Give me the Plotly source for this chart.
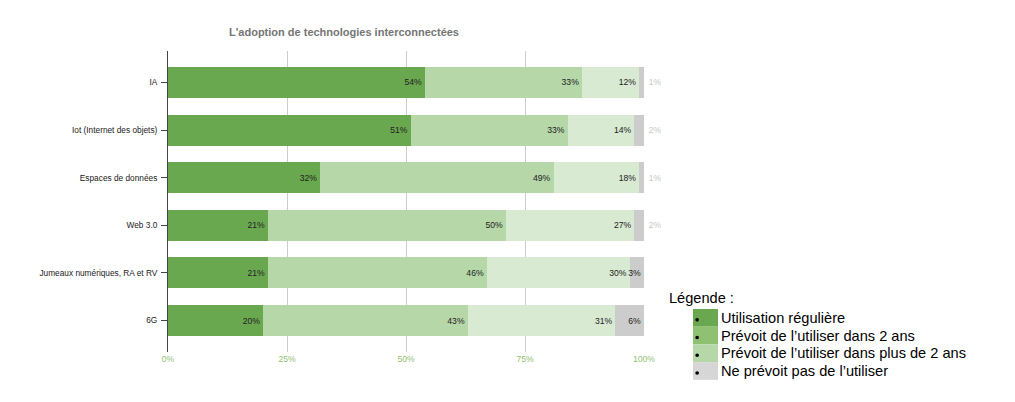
import plotly.graph_objects as go

# Données (en %)
technologies = ['IA', 'Iot (Internet des objets)', 'Espaces de données', 'Web 3.0',
                'Jumeaux numériques, RA et RV', '6G']
utilisation = [54, 51, 32, 21, 21, 20]
dans_2_ans = [33, 33, 49, 50, 46, 43]
plus_2_ans = [12, 14, 18, 27, 30, 31]
pas_prevu = [1, 2, 1, 2, 3, 6]

series_names = ['Utilisation régulière', "Prévoit de l’utiliser dans 2 ans",
                "Prévoit de l’utiliser dans plus de 2 ans", "Ne prévoit pas de l’utiliser"]
x_ticks = [0, 25, 50, 75, 100]

bar_colors = ['#6aa84f', '#b6d7a8', '#d9ead3', '#cccccc']
legend_colors = ['#6aa84f', '#8fc172', '#b6d7a8', '#d6d6d6']

# la page html ajoute une marge de 8 px autour de la figure
OFF = 8
W, H = 1015 - OFF, 402 - OFF
L, R, T, B = 168 - OFF, 644 - OFF, 51 - OFF, 352 - OFF

fig = go.Figure()
for name, vals, col in zip(series_names, [utilisation, dans_2_ans, plus_2_ans, pas_prevu], bar_colors):
    # les petites valeurs grises des 4 premières lignes sont écrites à l'extérieur
    if name == series_names[-1]:
        pos = ['outside' if v <= 2 else 'inside' for v in vals]
        txt = ['\u2009' + f'{v}%' if v <= 2 else f'{v}%' for v in vals]
    else:
        pos = 'inside'
        txt = [f'{v}%' for v in vals]
    fig.add_trace(go.Bar(y=technologies, x=vals, name=name, orientation='h',
                         marker=dict(color=col, line=dict(width=0)),
                         text=txt, textposition=pos,
                         textangle=0, insidetextanchor='end',
                         insidetextfont=dict(color='#222222', size=8.6),
                         outsidetextfont=dict(color='#c6c6c6', size=8.6),
                         hoverinfo='y+text',
                         cliponaxis=False, showlegend=False))


# conversion pixels de la page -> coordonnées paper
def px(x):
    return (x - OFF - L) / (R - L)


def py(y):
    return (B - (y - OFF)) / (B - T)


# Légende dessinée à la main (image collée dans l'original)
shapes = []
annotations = [dict(text='Légende :', x=px(667), y=py(298), xref='paper', yref='paper',
                    xanchor='left', yanchor='middle', showarrow=False,
                    font=dict(size=14.6, color='#000000', family='Arial, Liberation Sans'))]
row_top = 309
for i, (lab, col) in enumerate(zip(series_names, legend_colors)):
    y0 = row_top + i * 17.7
    y1 = y0 + 17.7
    shapes.append(dict(type='rect', xref='paper', yref='paper', x0=px(693), x1=px(718),
                       y0=py(y1), y1=py(y0), fillcolor=col, line=dict(width=0)))
    yc = (y0 + y1) / 2 + 2
    shapes.append(dict(type='circle', xref='paper', yref='paper', x0=px(695.3), x1=px(699),
                       y0=py(yc + 1.8), y1=py(yc - 1.8), fillcolor='#000000', line=dict(width=0)))
    annotations.append(dict(text=lab, x=px(719), y=py((y0 + y1) / 2), xref='paper', yref='paper',
                            xanchor='left', yanchor='middle', showarrow=False,
                            font=dict(size=14.6, color='#000000', family='Arial, Liberation Sans')))

fig.update_layout(
    width=W, height=H,
    margin=dict(l=L, r=W - R, t=T, b=H - B, autoexpand=False),
    barmode='stack', bargap=0.35,
    paper_bgcolor='white', plot_bgcolor='white',
    font=dict(family='Arial, Liberation Sans', size=9, color='#222222'),
    uniformtext=dict(minsize=8, mode='show'),
    title=dict(text="<b>L'adoption de technologies interconnectées</b>",
               x=(344 - OFF) / W, xanchor='center', xref='container',
               y=1 - (32 - OFF) / H, yanchor='middle', yref='container',
               font=dict(size=11, color='#757575')),
    xaxis=dict(range=[0, 100], tickvals=x_ticks, ticktext=[f'{t}%' for t in x_ticks],
               showgrid=True, gridcolor='#cccccc', gridwidth=1,
               zeroline=False, showline=False, automargin=False,
               tickfont=dict(size=8.6, color='#8fc172')),
    yaxis=dict(autorange=False, range=[5.66, -0.66], showline=True, linecolor='#444444',
               linewidth=1, ticks='outside', ticklen=6, tickcolor='#444444',
               ticklabelstandoff=2,
               showgrid=False, automargin=False, tickfont=dict(size=8.3, color='#222222')),
    shapes=shapes, annotations=annotations,
)

fig.write_html('out.html')
